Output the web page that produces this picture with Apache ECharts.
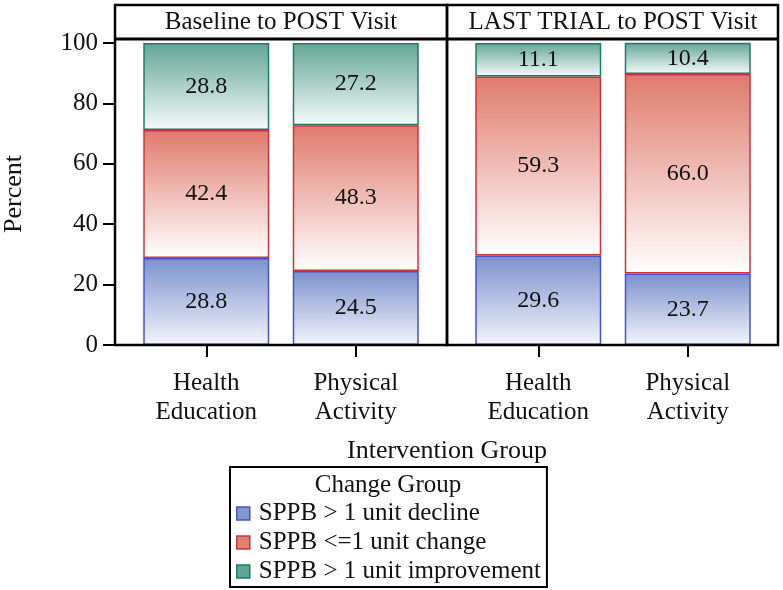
<!DOCTYPE html>
<html><head><meta charset="utf-8">
<script src="https://cdn.jsdelivr.net/npm/echarts@6/dist/echarts.min.js"></script>
<style>html,body{margin:0;padding:0;background:#fff}#c{width:783px;height:590px}</style>
</head><body><div id="c"></div>
<script>
const panels = ['Baseline to POST Visit', 'LAST TRIAL to POST Visit'];
const categories = ['Health\nEducation', 'Physical\nActivity'];
const seriesNames = ['SPPB > 1 unit decline', 'SPPB <=1 unit change', 'SPPB > 1 unit improvement'];
const declineVals = [[28.8, 24.5], [29.6, 23.7]];
const changeVals = [[42.4, 48.3], [59.3, 66.0]];
const improveVals = [[28.8, 27.2], [11.1, 10.4]];
const yTicks = [0, 20, 40, 60, 80, 100];

const FONT = 'Liberation Serif';
const styles = [
  {top: '#7b91cd', bottom: '#f3f4fb', border: '#4b50c2', legend: '#8297cf'},
  {top: '#e07a6c', bottom: '#ffffff', border: '#cc3340', legend: '#e2806f'},
  {top: '#63a595', bottom: '#f6fbfa', border: '#1f7a6a', legend: '#5fa494'}
];
const valsBySeries = [declineVals, changeVals, improveVals];

const panelX = [115, 447];
const panelW = 332;
const inset = 16.5;
const plotTop = 43, plotBottom = 345;

const grids = panelX.map(x => ({left: x + inset, width: panelW - 2 * inset, top: plotTop, height: plotBottom - plotTop}));

const xAxes = panels.map((p, i) => ({
  type: 'category', gridIndex: i, data: categories,
  axisLine: {show: false},
  axisTick: {show: true, alignWithLabel: true, length: 12, lineStyle: {color: '#000', width: 2}},
  axisLabel: {fontFamily: FONT, fontSize: 25, color: '#111', lineHeight: 29, margin: 24}
}));
const yAxes = panels.map((p, i) => ({
  type: 'value', gridIndex: i, min: 0, max: 100, interval: 20,
  offset: i === 0 ? inset : 0,
  splitLine: {show: false},
  axisLine: {show: false},
  axisTick: {show: i === 0, length: 12, lineStyle: {color: '#000', width: 2}},
  axisLabel: {show: i === 0, fontFamily: FONT, fontSize: 25, color: '#111', margin: 17,
    formatter: v => yTicks.includes(v) ? String(v) : ''}
}));

const series = [];
panels.forEach((p, pi) => {
  seriesNames.forEach((name, si) => {
    const st = styles[si];
    series.push({
      name: name, type: 'bar', stack: 'p' + pi, xAxisIndex: pi, yAxisIndex: pi,
      barWidth: 126,
      data: valsBySeries[si][pi],
      itemStyle: {
        color: new echarts.graphic.LinearGradient(0, 0, 0, 1, [{offset: 0, color: st.top}, {offset: 1, color: st.bottom}]),
        borderColor: st.border, borderWidth: 1.5
      },
      label: {show: true, position: 'inside', fontFamily: FONT, fontSize: 24, color: '#111',
        formatter: d => d.value.toFixed(1)},
      emphasis: {disabled: true}
    });
  });
});

const graphics = [];
panelX.forEach((x, i) => {
  graphics.push({type: 'rect', shape: {x: x, y: 5, width: panelW - (i === 1 ? 1 : 0), height: plotBottom - 5},
    style: {fill: 'none', stroke: '#000', lineWidth: 2.5}, z: 100});
  graphics.push({type: 'line', shape: {x1: x, y1: 39, x2: x + panelW - (i === 1 ? 1 : 0), y2: 39},
    style: {stroke: '#000', lineWidth: 3}, z: 100});
  graphics.push({type: 'text', x: x + panelW / 2, y: 22,
    style: {text: panels[i], font: '25px "' + FONT + '"', fill: '#111', textAlign: 'center', textVerticalAlign: 'middle'}, z: 100});
});
graphics.push({type: 'text', x: 447, y: 451,
  style: {text: 'Intervention Group', font: '26px "' + FONT + '"', fill: '#111', textAlign: 'center', textVerticalAlign: 'middle'}});
graphics.push({type: 'text', x: 14, y: 194, rotation: Math.PI / 2,
  style: {text: 'Percent', font: '26px "' + FONT + '"', fill: '#111', textAlign: 'center', textVerticalAlign: 'middle'}});
graphics.push({type: 'text', x: 388, y: 485,
  style: {text: 'Change Group', font: '25px "' + FONT + '"', fill: '#111', textAlign: 'center', textVerticalAlign: 'middle'}});

const chart = echarts.init(document.getElementById('c'), null, {renderer: 'canvas'});
chart.setOption({
  animation: false,
  grid: grids,
  xAxis: xAxes,
  yAxis: yAxes,
  series: series,
  legend: {
    left: 230, top: 467, orient: 'vertical',
    data: seriesNames.map((n, i) => ({name: n, icon: 'rect',
      itemStyle: {color: styles[i].legend, borderColor: styles[i].border, borderWidth: 1.5}})),
    itemWidth: 13, itemHeight: 13, itemGap: 4,
    padding: [34, 6, 3, 6],
    borderColor: '#000', borderWidth: 2,
    textStyle: {fontFamily: FONT, fontSize: 25, color: '#111', padding: [0, 0, 0, 4]},
    selectedMode: false
  },
  graphic: graphics
});
</script></body></html>
